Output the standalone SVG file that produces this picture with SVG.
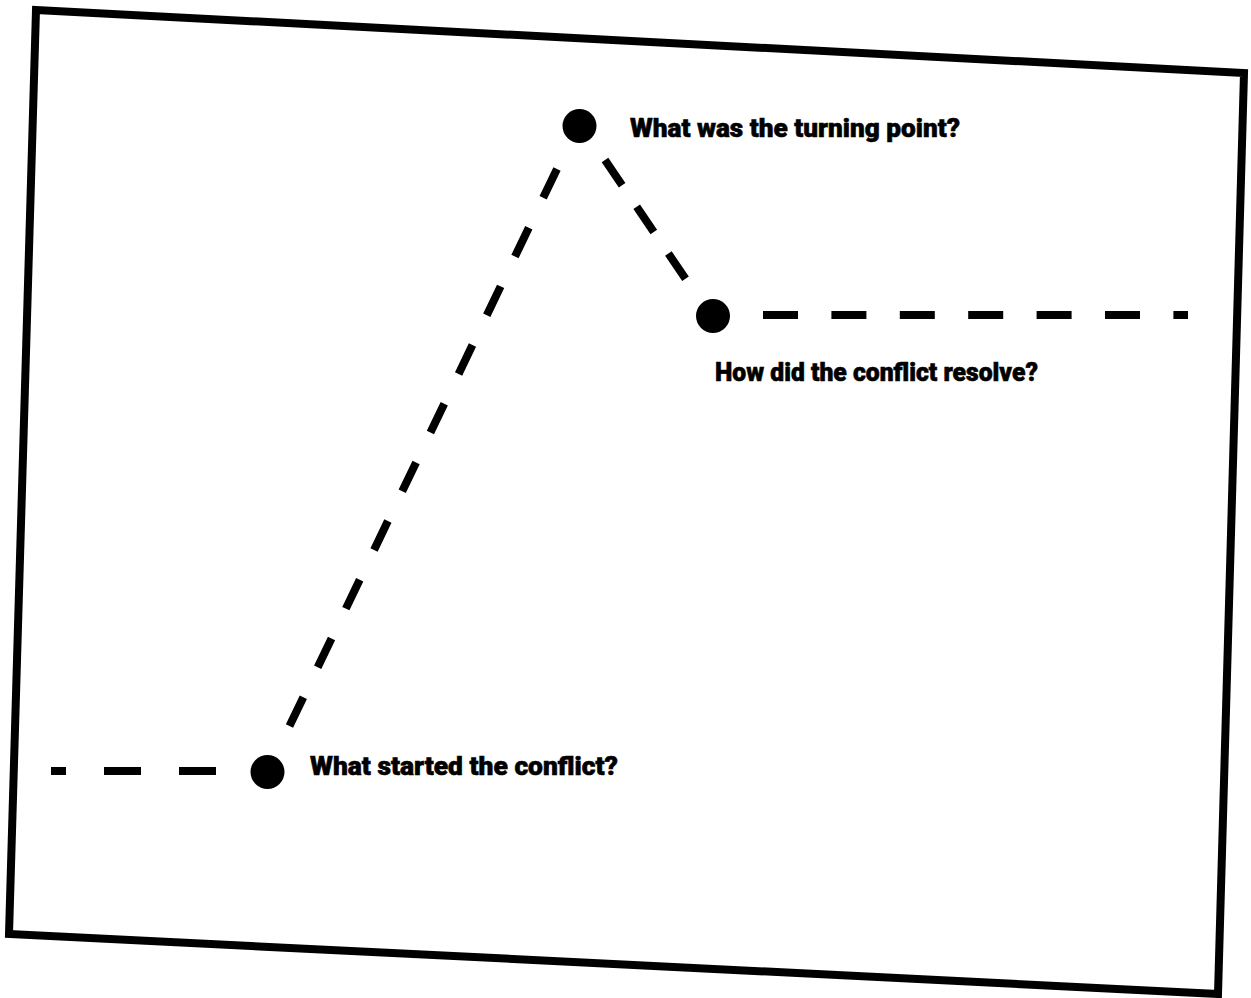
<svg xmlns="http://www.w3.org/2000/svg" width="1251" height="998" viewBox="0 0 1251 998">
  <style>
    .frame { fill: #ffffff; stroke: #000000; stroke-width: 8; stroke-linejoin: miter; }
    .dash { fill: none; stroke: #000000; stroke-width: 8; stroke-linecap: butt; }
    .dot { fill: #000000; }
    .label { font-family: Roboto, "Liberation Sans", Arial, sans-serif; font-weight: 900; font-size: 26px; fill: #000000; stroke: #000000; stroke-width: 0.6; }
  </style>
  <rect x="0" y="0" width="1251" height="998" fill="#ffffff"/>
  <polygon class="frame" points="36,10 1244,73 1218,994 9,934"/>
  <g id="connectors">
    <path class="dash" d="M216 771 L51 771" stroke-dasharray="37 38"/>
    <path class="dash" d="M557 169 L289 727" stroke-dasharray="32 33.1"/>
    <path class="dash" d="M605 160 L687 281" stroke-dasharray="30.5 26"/>
    <path class="dash" d="M763 315 L1188 315" stroke-dasharray="35 33.4"/>
  </g>
  <g id="node-start">
    <circle class="dot" cx="267.5" cy="772" r="17"/>
    <text class="label" x="310" y="775" textLength="308" lengthAdjust="spacingAndGlyphs">What started the conflict?</text>
  </g>
  <g id="node-turning">
    <circle class="dot" cx="579.5" cy="126" r="17"/>
    <text class="label" x="630" y="137" textLength="330" lengthAdjust="spacingAndGlyphs">What was the turning point?</text>
  </g>
  <g id="node-resolve">
    <circle class="dot" cx="713" cy="316" r="17"/>
    <text class="label" x="715" y="381" textLength="323" lengthAdjust="spacingAndGlyphs">How did the conflict resolve?</text>
  </g>
</svg>
